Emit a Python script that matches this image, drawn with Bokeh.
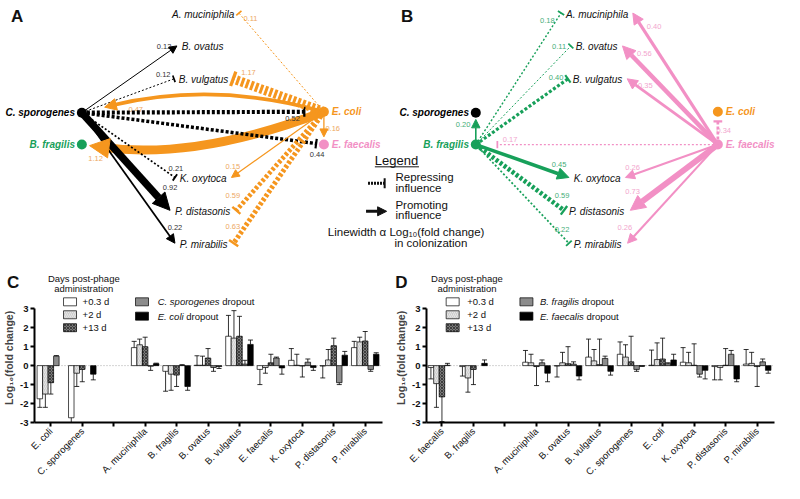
import math
import numpy as np
from bokeh.plotting import figure
from bokeh.models import Range1d, Arrow, NormalHead, TeeHead, FixedTicker, Span
from bokeh.layouts import column, row
from bokeh.embed import file_html
from bokeh.resources import INLINE
from bokeh.core.properties import value

nan = float("nan")
FONT = "Liberation Sans"

# ---------------- Panel A network data (log10 fold change) ----------------
A_from = ["C. sporogenes"] * 7 + ["E. coli"] * 8
A_to = ["B. ovatus", "B. vulgatus", "E. coli", "E. faecalis", "K. oxytoca", "P. distasonis", "P. mirabilis",
        "A. muciniphila", "B. vulgatus", "C. sporogenes", "B. fragilis", "E. faecalis", "K. oxytoca",
        "P. distasonis", "P. mirabilis"]
A_val = [0.12, 0.12, 0.52, 0.44, 0.21, 0.92, 0.22, 0.11, 1.17, 0.47, 1.12, 0.16, 0.15, 0.59, 0.63]
A_kind = ["promote", "repress", "repress", "repress", "repress", "promote", "promote",
          "repress", "repress", "promote", "promote", "promote", "promote", "repress", "repress"]

# ---------------- Panel B network data ----------------
B_from = ["B. fragilis"] * 7 + ["E. faecalis"] * 8
B_to = ["A. muciniphila", "B. ovatus", "B. vulgatus", "C. sporogenes", "K. oxytoca", "P. distasonis", "P. mirabilis",
        "B. fragilis", "E. coli", "A. muciniphila", "B. ovatus", "B. vulgatus", "K. oxytoca",
        "P. distasonis", "P. mirabilis"]
B_val = [0.18, 0.11, 0.40, 0.20, 0.45, 0.59, 0.22, 0.17, 0.34, 0.40, 0.56, 0.35, 0.26, 0.73, 0.26]
B_kind = ["repress", "repress", "repress", "promote", "promote", "repress", "repress",
          "repress", "repress", "promote", "promote", "promote", "promote", "promote", "promote"]

# ---------------- Panel C data ----------------
C_categories = ["E. coli", "C. sporogenes", "", "A. muciniphila", "B. fragilis", "B. ovatus", "B. vulgatus",
                "E. faecalis", "K. oxytoca", "P. distasonis", "P. mirabilis"]
C_series = ["+0.3 d", "+2 d", "+13 d", "C. sporogenes", "E. coli"]
C_d03 = [-1.75, -2.75, nan, 0.95, -0.30, 0.02, 1.55, -0.20, 0.28, -0.02, 0.95]
C_d03_err = [0.45, 0.25, nan, 0.33, 1.05, 0.50, 1.10, 0.80, 0.62, 0.63, 0.33]
C_d2 = [-1.50, -0.40, nan, 1.10, -0.45, 0.02, 1.45, -0.10, 0.02, 0.30, 1.25]
C_d2_err = [0.70, 0.70, nan, 0.30, 0.85, 0.48, 1.45, 0.30, 0.58, 0.55, 0.25]
C_d13 = [-0.90, -0.20, nan, 1.00, -0.50, 0.40, 1.55, 0.15, -0.02, 1.05, 1.30]
C_d13_err = [0.60, 0.65, nan, 0.50, 0.60, 0.50, 1.05, 0.45, 0.58, 0.40, 0.50]
C_drop1 = [0.50, nan, nan, -0.03, 0.02, -0.10, 0.08, 0.40, 0.18, -0.90, -0.20]
C_drop1_err = [0.03, nan, nan, 0.22, 0.03, 0.20, 0.20, 0.05, 0.17, 0.10, 0.10]
C_drop2 = [nan, -0.45, nan, 0.10, -1.10, -0.05, 1.12, -0.12, -0.10, 0.55, 0.60]
C_drop2_err = [nan, 0.30, nan, 0.03, 0.20, 0.10, 0.23, 0.33, 0.15, 0.20, 0.08]

# ---------------- Panel D data ----------------
D_categories = ["E. faecalis", "B. fragilis", "", "A. muciniphila", "B. ovatus", "B. vulgatus", "C. sporogenes",
                "E. coli", "K. oxytoca", "P. distasonis", "P. mirabilis"]
D_series = ["+0.3 d", "+2 d", "+13 d", "B. fragilis", "E. faecalis"]
D_d03 = [-0.10, -0.05, nan, 0.18, -0.02, 0.45, 0.60, 0.02, 0.18, -0.05, 0.08]
D_d03_err = [0.60, 0.50, nan, 0.62, 0.58, 0.95, 0.65, 0.80, 0.77, 0.70, 0.77]
D_d2 = [-0.95, -0.65, nan, 0.15, 0.15, 0.25, 0.45, 0.32, 0.15, -0.10, 0.12]
D_d2_err = [1.25, 0.75, nan, 0.45, 0.55, 0.60, 0.65, 0.88, 0.55, 0.65, 0.58]
D_d13 = [-1.65, -0.20, nan, -0.05, 0.10, 0.05, 0.20, 0.35, 0.02, 0.02, -0.05]
D_d13_err = [1.30, 0.80, nan, 1.00, 0.90, 1.35, 1.35, 1.10, 1.13, 0.88, 1.05]
D_drop1 = [0.02, nan, nan, 0.15, 0.08, 0.38, -0.20, 0.10, -0.45, 0.60, 0.20]
D_drop1_err = [0.10, nan, nan, 0.15, 0.12, 0.12, 0.10, 0.05, 0.15, 0.20, 0.15]
D_drop2 = [nan, 0.12, nan, -0.40, -0.55, -0.30, -0.02, 0.30, -0.25, -0.70, -0.25]
D_drop2_err = [nan, 0.18, nan, 0.45, 0.20, 0.20, 0.02, 0.30, 0.45, 0.15, 0.15]

# ---------------- layout / style ----------------
ORANGE, GREEN, PINK, BLACK = "#F5961E", "#17A05A", "#F290C5", "#000000"
SRC_COL = {"C. sporogenes": BLACK, "B. fragilis": GREEN, "E. coli": ORANGE, "E. faecalis": PINK}
LAB_COL = {"C. sporogenes": "#333333", "B. fragilis": "#45AE78", "E. coli": "#EDA862", "E. faecalis": "#F2A6CE"}
SRC_POS = {"C. sporogenes": (83, 116), "B. fragilis": (83, 149), "E. coli": (330, 115), "E. faecalis": (330, 149)}
TGT_POS = {"A. muciniphila": (175, 14), "B. ovatus": (185, 48), "B. vulgatus": (182, 82),
           "K. oxytoca": (183, 184), "P. distasonis": (178, 218), "P. mirabilis": (183, 252)}
GAP = {("C. sporogenes", "E. coli"): 20, ("E. faecalis", "B. fragilis"): 22,
       ("E. faecalis", "E. coli"): 10, ("B. fragilis", "C. sporogenes"): 7}
CURVES = {("E. coli", "C. sporogenes"): ((218, 83), 24), ("E. coli", "B. fragilis"): ((200, 165), 8)}
A_lab = [(167, 48), (166, 77), (298, 122), (323, 159), (179, 174), (173, 193), (178, 235), (255, 19),
         (253, 74), (138, 113), (97, 163), (339, 132), (237, 172), (237, 202), (237, 234)]
B_lab = [(156, 21), (168, 48), (165, 80), (70, 128), (168, 170), (171, 202), (171, 237), (118, 144),
         (336, 134), (265, 27), (255, 55), (256, 88), (243, 173), (243, 198), (235, 235)]
B_SHIFT = 402
TOP_SPLIT = 303          # reference-pixel row where the bar panels begin
Y_ZERO_REF, Y_UNIT_REF = 381, 20.5

CW = {' ': 278, '.': 278, 'A': 667, 'B': 667, 'C': 722, 'E': 667, 'K': 667, 'P': 667, 'a': 556, 'b': 556,
      'c': 500, 'd': 556, 'e': 556, 'f': 278, 'g': 556, 'h': 556, 'i': 222, 'l': 222, 'm': 833, 'n': 556,
      'o': 556, 'p': 556, 'r': 333, 's': 500, 't': 278, 'u': 556, 'v': 500, 'x': 500, 'y': 500, 'z': 500}


def text_w(s, size):
    return sum(CW.get(ch, 556) for ch in s) / 1000.0 * size


def txt(p, xs, ys, texts, size, color, style="normal", align="left", baseline="middle", x_offset=0):
    p.text(x=xs, y=ys, text=texts, text_font=value(FONT), text_font_size=size, text_color=color,
           text_font_style=style, text_align=align, text_baseline=baseline, x_offset=x_offset)


def draw_network(p, dx, frm, to, vals, kinds, labpos):
    lx, ly, lt, lc = [], [], [], []
    for (a, b, v, k, lp) in zip(frm, to, vals, kinds, labpos):
        col = SRC_COL[a]
        sx, sy = SRC_POS[a]
        sx += dx
        w = max(1.0, 8 * v)
        hs = 6 + 12 * v
        if (a, b) in CURVES:
            (cx, cy), g = CURVES[(a, b)]
            cx += dx
            tx, ty = SRC_POS[b]
            tx += dx
            ux, uy = cx - tx, cy - ty
            d = math.hypot(ux, uy)
            ux, uy = ux / d, uy / d
            tipx, tipy = tx + ux * g, ty + uy * g
            endx, endy = tipx + ux * hs * 0.7, tipy + uy * hs * 0.7
            p.quadratic(x0=[sx], y0=[sy], x1=[endx], y1=[endy], cx=[cx], cy=[cy],
                        line_color=col, line_width=w)
            p.add_layout(Arrow(x_start=tipx + ux * 3, y_start=tipy + uy * 3, x_end=tipx, y_end=tipy,
                               line_alpha=0, end=NormalHead(size=hs, fill_color=col, line_color=col,
                                                            line_width=1)))
        else:
            if b in TGT_POS:
                left, ty = TGT_POS[b]
                if SRC_POS[a][0] < 200:
                    ex, ey = left - 5 + dx, ty - 1
                else:
                    ex, ey = left + text_w(b, 10) + 6 + dx, ty - 1
            else:
                tx, ty = SRC_POS[b]
                tx += dx
                g = GAP.get((a, b), 8)
                d = math.hypot(tx - sx, ty - sy)
                ex, ey = tx - (tx - sx) / d * g, ty - (ty - sy) / d * g
            if k == "promote":
                p.add_layout(Arrow(x_start=sx, y_start=sy, x_end=ex, y_end=ey, line_color=col, line_width=w,
                                   end=NormalHead(size=hs, fill_color=col, line_color=col, line_width=1)))
            else:
                dash = "2 2" if w < 2.5 else "3 2"
                p.add_layout(Arrow(x_start=sx, y_start=sy, x_end=ex, y_end=ey, line_color=col, line_width=w,
                                   line_dash=dash,
                                   end=TeeHead(size=6 + 8 * v, line_color=col, line_width=1.5 + 1.5 * v)))
        lx.append(lp[0] + dx)
        ly.append(lp[1])
        lt.append("%.2f" % v)
        lc.append(LAB_COL[a])
    txt(p, lx, ly, lt, "7.5px", lc, align="center")
    names = list(SRC_POS.keys())
    p.scatter(x=[SRC_POS[n][0] + dx for n in names], y=[SRC_POS[n][1] for n in names], size=10,
              fill_color=[SRC_COL[n] for n in names], line_color=None)
    for n in names:
        x, y = SRC_POS[n]
        if x < 200:
            txt(p, [x - 7 + dx], [y], [n], "10px", SRC_COL[n], style="bold italic", align="right")
        else:
            txt(p, [x + 8 + dx], [y], [n], "10px", SRC_COL[n], style="bold italic", align="left")
    tn = list(TGT_POS.keys())
    txt(p, [TGT_POS[n][0] + dx for n in tn], [TGT_POS[n][1] for n in tn], tn, "10px", "#111111",
        style="italic")


H_TOP = round(TOP_SPLIT * 0.968)
H_BOT = 483 - H_TOP

top = figure(width=784, height=H_TOP, x_range=Range1d(0, 800), y_range=Range1d(TOP_SPLIT, 0),
             x_axis_location=None, y_axis_location=None, min_border=0,
             output_backend="svg", toolbar_location=None)
top.grid.visible = False
top.outline_line_color = None

draw_network(top, 0, A_from, A_to, A_val, A_kind, A_lab)
draw_network(top, B_SHIFT, B_from, B_to, B_val, B_kind, B_lab)

txt(top, [17, 415], [17, 17], ["A", "B"], "17px", "#111111", style="bold", align="center")
txt(top, [13, 409], [292, 292], ["C", "D"], "17px", "#111111", style="bold", align="center")
# titles of the bar-chart legends
txt(top, [85, 85, 476, 476], [287, 297.5, 287, 297.5],
    ["Days post-phage", "administration", "Days post-phage", "administration"], "9.5px", "#111111",
    align="center")

# network legend
txt(top, [382], [165], ["Legend"], "13px", "#111111")
top.segment(x0=[382], y0=[172], x1=[427], y1=[172], line_color="#111111", line_width=1)
top.add_layout(Arrow(x_start=375, y_start=189, x_end=392, y_end=189, line_color="#111111", line_width=3,
                     line_dash="2 1", end=TeeHead(size=10, line_color="#111111", line_width=2)))
top.add_layout(Arrow(x_start=373, y_start=218, x_end=394, y_end=218, line_color="#111111", line_width=3,
                     end=NormalHead(size=9, fill_color="#111111", line_color="#111111", line_width=1)))
txt(top, [403, 403, 403, 403], [183, 194, 211, 222], ["Repressing", "influence", "Promoting", "influence"],
    "11.5px", "#111111")
txt(top, [334, 402], [239, 251], ["Linewidth \u03b1 Log\u2081\u2080(fold change)", "in colonization"],
    "11.5px", "#111111")

# ---------------- bar panels ----------------
BAR_STYLES = [
    dict(fill_color="white"),
    dict(fill_color="#cdcdcd", hatch_pattern="right_diagonal_line", hatch_color="#e6e6e6", hatch_scale=4,
         hatch_weight=1),
    dict(fill_color="#7a7a7a", hatch_pattern="diagonal_cross", hatch_color="#2e2e2e", hatch_scale=3,
         hatch_weight=0.8),
    dict(fill_color="#8c8c8c"),
    dict(fill_color="#000000"),
]

Y_TOP = (Y_ZERO_REF - TOP_SPLIT) / Y_UNIT_REF


def ref_y(r):
    return (Y_ZERO_REF - r) / Y_UNIT_REF


def bar_panel(cats, vals, errs, names, xr, ml, lay):
    p = figure(width=392, height=H_BOT, x_range=Range1d(*xr), y_range=Range1d(-3.0, Y_TOP),
               output_backend="svg", toolbar_location=None, min_border_left=ml, min_border_right=10,
               min_border_top=0, min_border_bottom=54)
    p.grid.visible = False
    p.outline_line_color = None
    p.add_layout(Span(location=0, dimension="width", line_color="#a8a8a8", line_dash="1 2",
                      line_width=1, level="underlay"))
    bw = 0.175
    idx = np.arange(len(cats))
    for s in range(5):
        x = idx + (s - 2) * bw
        top_v = np.array(vals[s], dtype=float)
        e = np.array(errs[s], dtype=float)
        tip = top_v + np.sign(top_v) * e
        p.vbar(x=x, top=top_v, bottom=0, width=bw, line_color="black", line_width=0.7, **BAR_STYLES[s])
        p.segment(x0=x, y0=top_v, x1=x, y1=tip, line_color="black", line_width=0.8)
        p.scatter(x=x, y=tip, marker="dash", size=5, line_color="black", line_width=0.8)

    for ax in (p.xaxis[0], p.yaxis[0]):
        ax.axis_line_width = 2
        ax.major_tick_line_width = 2
        ax.major_tick_out = 4
        ax.major_tick_in = 0
        ax.minor_tick_line_color = None
        ax.major_label_text_font = FONT
        ax.major_label_text_color = "#111111"
    p.xaxis.major_label_text_font_size = "9.5px"
    p.xaxis.major_label_standoff = 3
    p.yaxis.major_label_text_font_size = "9.5px"
    p.yaxis.major_label_text_font_style = "bold"
    p.yaxis.major_label_standoff = 2
    p.yaxis.ticker = FixedTicker(ticks=[-3, -2, -1, 0, 1, 2, 3])
    p.yaxis.bounds = (-3, 3)
    p.yaxis.major_label_overrides = {t: str(t) for t in range(-3, 4)}
    p.yaxis.axis_label = "Log\u2081\u2080(fold change)"
    p.yaxis.axis_label_text_font = FONT
    p.yaxis.axis_label_text_font_size = "10.5px"
    p.yaxis.axis_label_text_font_style = "bold"
    p.yaxis.axis_label_standoff = 2
    p.xaxis.ticker = FixedTicker(ticks=list(range(len(cats))))
    p.xaxis.major_label_overrides = {i: c for i, c in enumerate(cats)}
    p.xaxis.major_label_orientation = math.pi / 4

    # legend
    (bx1, tx1, bx2, tx2) = lay
    y1 = [ref_y(312), ref_y(326), ref_y(340)]
    y2 = [ref_y(312), ref_y(327.5)]
    for s in range(3):
        p.rect(x=[bx1], y=[y1[s]], width=13, height=8, width_units="screen", height_units="screen",
               line_color="black", line_width=0.7, **BAR_STYLES[s])
        txt(p, [tx1], [y1[s]], [names[s]], "9.5px", "#111111")
    for j in range(2):
        s = 3 + j
        p.rect(x=[bx2], y=[y2[j]], width=13, height=8, width_units="screen", height_units="screen",
               line_color="black", line_width=0.7, **BAR_STYLES[s])
        txt(p, [tx2], [y2[j]], [names[s]], "9.5px", "#111111", style="italic")
        txt(p, [tx2], [y2[j]], ["dropout"], "9.5px", "#111111", x_offset=text_w(names[s] + " ", 9.5))
    return p


pC = bar_panel(C_categories, [C_d03, C_d2, C_d13, C_drop1, C_drop2],
               [C_d03_err, C_d2_err, C_d13_err, C_drop1_err, C_drop2_err], C_series,
               (-0.52, 10.55), 28, (0.61, 1.01, 2.90, 3.40))
pD = bar_panel(D_categories, [D_d03, D_d2, D_d13, D_drop1, D_drop2],
               [D_d03_err, D_d2_err, D_d13_err, D_drop1_err, D_drop2_err], D_series,
               (-0.49, 10.55), 30, (0.34, 0.80, 2.68, 3.11))

layout = column(top, row(pC, pD))
open("out.html", "w").write(file_html(layout, INLINE))
